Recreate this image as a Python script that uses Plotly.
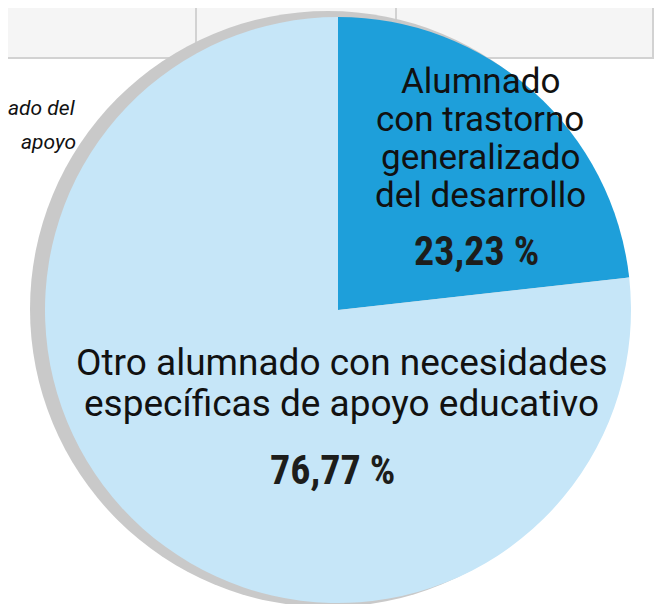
import plotly.graph_objects as go

labels = ["Alumnado con trastorno generalizado del desarrollo",
          "Otro alumnado con necesidades específicas de apoyo educativo"]
values = [23.23, 76.77]
value_text = ["23,23 %", "76,77 %"]
label_lines = [["Alumnado", "con trastorno", "generalizado", "del desarrollo"],
               ["Otro alumnado con necesidades", "específicas de apoyo educativo"]]
side_lines = ["ado del", "apoyo"]
colors = ["#1E9FDA", "#C6E6F8"]

W, H = 668, 604

def dom(cx, cy, r):
    return dict(x=[max(0, (cx - r) / W), min(1, (cx + r) / W)],
                y=[max(0, 1 - (cy + r) / H), min(1, 1 - (cy - r) / H)])

fig = go.Figure()
# shadow
fig.add_trace(go.Pie(values=[1], labels=["sombra"], marker=dict(colors=["#C9C9C9"]),
                     textinfo="none", hoverinfo="skip", showlegend=False,
                     domain=dom(320, 301, 298)))
fig.add_trace(go.Pie(values=values, labels=labels, sort=False, direction="clockwise",
                     rotation=0, marker=dict(colors=colors, line=dict(width=0)),
                     textinfo="none", showlegend=False,
                     domain=dom(330, 302, 293)))

gl = dict(color="#D2D2D2", width=2)
shapes = [
    dict(type="rect", xref="paper", yref="paper", x0=-0.01, x1=645 / W,
         y0=1 - 50 / H, y1=1.01, fillcolor="#F5F5F5", line=gl, layer="below"),
    dict(type="line", xref="paper", yref="paper", x0=188 / W, x1=188 / W,
         y0=1 - 50 / H, y1=1, line=gl, layer="below"),
    dict(type="line", xref="paper", yref="paper", x0=388 / W, x1=388 / W,
         y0=1 - 50 / H, y1=1, line=gl, layer="below"),
]

def ann(text, x, y, size, font="Roboto", color="#111111", align="center", xanchor="center"):
    return dict(text=text, x=x / W, y=1 - y / H, xref="paper", yref="paper",
                showarrow=False, align=align, xanchor=xanchor, yanchor="middle",
                font=dict(family=font, size=size, color=color))

annotations = []
for i, line in enumerate(label_lines[0]):
    annotations.append(ann(line, 472, 73 + 38 * i, 35))
annotations.append(ann("<b>" + value_text[0] + "</b>", 468, 243, 40,
                       font="Roboto Condensed, Roboto", color="#1d1d1b"))
for i, line in enumerate(label_lines[1]):
    annotations.append(ann(line, 333, 354 + 41 * i, 37))
annotations.append(ann("<b>" + value_text[1] + "</b>", 324, 462, 40,
                       font="Roboto Condensed, Roboto", color="#1d1d1b"))
for i, line in enumerate(side_lines):
    annotations.append(ann("<i>" + line + "</i>", 70, 100 + 34 * i, 21,
                           align="right", xanchor="right"))

fig.update_layout(width=W, height=H, margin=dict(l=0, r=0, t=0, b=0),
                  paper_bgcolor="white", plot_bgcolor="white",
                  shapes=shapes, annotations=annotations, showlegend=False)
fig.write_html("out.html")
